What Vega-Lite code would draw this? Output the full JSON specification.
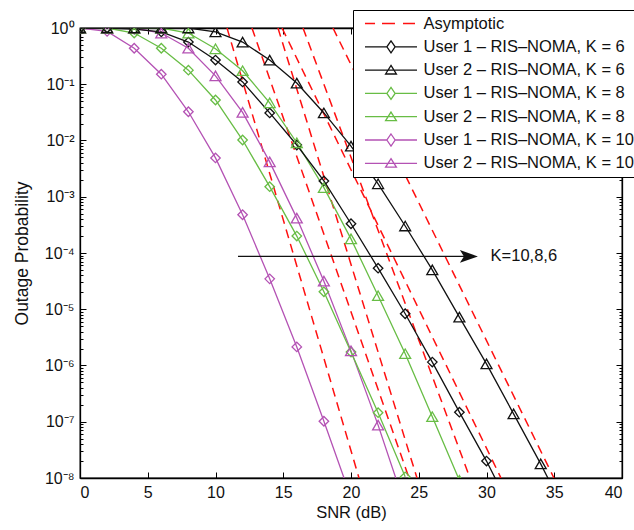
{
  "$schema": "https://vega.github.io/schema/vega-lite/v6.json",
  "width": 542,
  "height": 450,
  "autosize": {"type": "none"},
  "padding": {"left": 80, "top": 28, "right": 12, "bottom": 52},
  "background": "white",
  "config": {
    "font": "Liberation Sans",
    "view": {"stroke": "#000000", "strokeWidth": 1.3},
    "axis": {
      "grid": false,
      "labelFont": "Liberation Sans",
      "labelFontSize": 16,
      "labelColor": "#111111",
      "titleFont": "Liberation Sans",
      "titleFontSize": 16.5,
      "titleFontWeight": "normal",
      "titleColor": "#111111",
      "domainColor": "#000000",
      "domainWidth": 1.3,
      "tickColor": "#000000",
      "tickWidth": 1,
      "labelOverlap": false
    }
  },
  "datasets": {
    "curves": [
      {"series": "User 1 – RIS–NOMA, K = 10", "user": 1, "snr": 0, "p": 1},
      {"series": "User 1 – RIS–NOMA, K = 10", "user": 1, "snr": 2, "p": 0.871},
      {"series": "User 1 – RIS–NOMA, K = 10", "user": 1, "snr": 4, "p": 0.437},
      {"series": "User 1 – RIS–NOMA, K = 10", "user": 1, "snr": 6, "p": 0.151},
      {"series": "User 1 – RIS–NOMA, K = 10", "user": 1, "snr": 8, "p": 0.0324},
      {"series": "User 1 – RIS–NOMA, K = 10", "user": 1, "snr": 10, "p": 0.0049},
      {"series": "User 1 – RIS–NOMA, K = 10", "user": 1, "snr": 12, "p": 4.79e-4},
      {"series": "User 1 – RIS–NOMA, K = 10", "user": 1, "snr": 14, "p": 3.47e-5},
      {"series": "User 1 – RIS–NOMA, K = 10", "user": 1, "snr": 16, "p": 2.14e-6},
      {"series": "User 1 – RIS–NOMA, K = 10", "user": 1, "snr": 18, "p": 1.02e-7},
      {"series": "User 1 – RIS–NOMA, K = 10", "user": 1, "snr": 20, "p": 4.47e-9},

      {"series": "User 2 – RIS–NOMA, K = 10", "user": 2, "snr": 0, "p": 1},
      {"series": "User 2 – RIS–NOMA, K = 10", "user": 2, "snr": 2, "p": 1},
      {"series": "User 2 – RIS–NOMA, K = 10", "user": 2, "snr": 4, "p": 1},
      {"series": "User 2 – RIS–NOMA, K = 10", "user": 2, "snr": 6, "p": 0.813},
      {"series": "User 2 – RIS–NOMA, K = 10", "user": 2, "snr": 8, "p": 0.437},
      {"series": "User 2 – RIS–NOMA, K = 10", "user": 2, "snr": 10, "p": 0.141},
      {"series": "User 2 – RIS–NOMA, K = 10", "user": 2, "snr": 12, "p": 0.0316},
      {"series": "User 2 – RIS–NOMA, K = 10", "user": 2, "snr": 14, "p": 4.17e-3},
      {"series": "User 2 – RIS–NOMA, K = 10", "user": 2, "snr": 16, "p": 4.17e-4},
      {"series": "User 2 – RIS–NOMA, K = 10", "user": 2, "snr": 18, "p": 3.16e-5},
      {"series": "User 2 – RIS–NOMA, K = 10", "user": 2, "snr": 20, "p": 1.82e-6},
      {"series": "User 2 – RIS–NOMA, K = 10", "user": 2, "snr": 22, "p": 8.71e-8},
      {"series": "User 2 – RIS–NOMA, K = 10", "user": 2, "snr": 24, "p": 3.16e-9},

      {"series": "User 1 – RIS–NOMA, K = 8", "user": 1, "snr": 0, "p": 1},
      {"series": "User 1 – RIS–NOMA, K = 8", "user": 1, "snr": 2, "p": 1},
      {"series": "User 1 – RIS–NOMA, K = 8", "user": 1, "snr": 4, "p": 0.813},
      {"series": "User 1 – RIS–NOMA, K = 8", "user": 1, "snr": 6, "p": 0.437},
      {"series": "User 1 – RIS–NOMA, K = 8", "user": 1, "snr": 8, "p": 0.178},
      {"series": "User 1 – RIS–NOMA, K = 8", "user": 1, "snr": 10, "p": 0.0525},
      {"series": "User 1 – RIS–NOMA, K = 8", "user": 1, "snr": 12, "p": 0.0102},
      {"series": "User 1 – RIS–NOMA, K = 8", "user": 1, "snr": 14, "p": 1.51e-3},
      {"series": "User 1 – RIS–NOMA, K = 8", "user": 1, "snr": 16, "p": 2.0e-4},
      {"series": "User 1 – RIS–NOMA, K = 8", "user": 1, "snr": 18, "p": 2.04e-5},
      {"series": "User 1 – RIS–NOMA, K = 8", "user": 1, "snr": 20, "p": 1.74e-6},
      {"series": "User 1 – RIS–NOMA, K = 8", "user": 1, "snr": 22, "p": 1.45e-7},
      {"series": "User 1 – RIS–NOMA, K = 8", "user": 1, "snr": 24, "p": 1.05e-8},

      {"series": "User 2 – RIS–NOMA, K = 8", "user": 2, "snr": 0, "p": 1},
      {"series": "User 2 – RIS–NOMA, K = 8", "user": 2, "snr": 2, "p": 1},
      {"series": "User 2 – RIS–NOMA, K = 8", "user": 2, "snr": 4, "p": 1},
      {"series": "User 2 – RIS–NOMA, K = 8", "user": 2, "snr": 6, "p": 1},
      {"series": "User 2 – RIS–NOMA, K = 8", "user": 2, "snr": 8, "p": 0.813},
      {"series": "User 2 – RIS–NOMA, K = 8", "user": 2, "snr": 10, "p": 0.427},
      {"series": "User 2 – RIS–NOMA, K = 8", "user": 2, "snr": 12, "p": 0.174},
      {"series": "User 2 – RIS–NOMA, K = 8", "user": 2, "snr": 14, "p": 0.0468},
      {"series": "User 2 – RIS–NOMA, K = 8", "user": 2, "snr": 16, "p": 9.12e-3},
      {"series": "User 2 – RIS–NOMA, K = 8", "user": 2, "snr": 18, "p": 1.45e-3},
      {"series": "User 2 – RIS–NOMA, K = 8", "user": 2, "snr": 20, "p": 1.78e-4},
      {"series": "User 2 – RIS–NOMA, K = 8", "user": 2, "snr": 22, "p": 1.74e-5},
      {"series": "User 2 – RIS–NOMA, K = 8", "user": 2, "snr": 24, "p": 1.62e-6},
      {"series": "User 2 – RIS–NOMA, K = 8", "user": 2, "snr": 26, "p": 1.23e-7},
      {"series": "User 2 – RIS–NOMA, K = 8", "user": 2, "snr": 28, "p": 9.1e-9},

      {"series": "User 1 – RIS–NOMA, K = 6", "user": 1, "snr": 0, "p": 1},
      {"series": "User 1 – RIS–NOMA, K = 6", "user": 1, "snr": 2, "p": 1},
      {"series": "User 1 – RIS–NOMA, K = 6", "user": 1, "snr": 4, "p": 0.955},
      {"series": "User 1 – RIS–NOMA, K = 6", "user": 1, "snr": 6, "p": 0.851},
      {"series": "User 1 – RIS–NOMA, K = 6", "user": 1, "snr": 8, "p": 0.562},
      {"series": "User 1 – RIS–NOMA, K = 6", "user": 1, "snr": 10, "p": 0.269},
      {"series": "User 1 – RIS–NOMA, K = 6", "user": 1, "snr": 12, "p": 0.110},
      {"series": "User 1 – RIS–NOMA, K = 6", "user": 1, "snr": 14, "p": 0.0309},
      {"series": "User 1 – RIS–NOMA, K = 6", "user": 1, "snr": 16, "p": 8.32e-3},
      {"series": "User 1 – RIS–NOMA, K = 6", "user": 1, "snr": 18, "p": 1.91e-3},
      {"series": "User 1 – RIS–NOMA, K = 6", "user": 1, "snr": 20, "p": 3.31e-4},
      {"series": "User 1 – RIS–NOMA, K = 6", "user": 1, "snr": 22, "p": 5.37e-5},
      {"series": "User 1 – RIS–NOMA, K = 6", "user": 1, "snr": 24, "p": 8.32e-6},
      {"series": "User 1 – RIS–NOMA, K = 6", "user": 1, "snr": 26, "p": 1.15e-6},
      {"series": "User 1 – RIS–NOMA, K = 6", "user": 1, "snr": 28, "p": 1.48e-7},
      {"series": "User 1 – RIS–NOMA, K = 6", "user": 1, "snr": 30, "p": 2.0e-8},
      {"series": "User 1 – RIS–NOMA, K = 6", "user": 1, "snr": 32, "p": 2.24e-9},

      {"series": "User 2 – RIS–NOMA, K = 6", "user": 2, "snr": 0, "p": 1},
      {"series": "User 2 – RIS–NOMA, K = 6", "user": 2, "snr": 2, "p": 1},
      {"series": "User 2 – RIS–NOMA, K = 6", "user": 2, "snr": 4, "p": 1},
      {"series": "User 2 – RIS–NOMA, K = 6", "user": 2, "snr": 6, "p": 1},
      {"series": "User 2 – RIS–NOMA, K = 6", "user": 2, "snr": 8, "p": 1},
      {"series": "User 2 – RIS–NOMA, K = 6", "user": 2, "snr": 10, "p": 0.851},
      {"series": "User 2 – RIS–NOMA, K = 6", "user": 2, "snr": 12, "p": 0.562},
      {"series": "User 2 – RIS–NOMA, K = 6", "user": 2, "snr": 14, "p": 0.269},
      {"series": "User 2 – RIS–NOMA, K = 6", "user": 2, "snr": 16, "p": 0.105},
      {"series": "User 2 – RIS–NOMA, K = 6", "user": 2, "snr": 18, "p": 0.0309},
      {"series": "User 2 – RIS–NOMA, K = 6", "user": 2, "snr": 20, "p": 7.94e-3},
      {"series": "User 2 – RIS–NOMA, K = 6", "user": 2, "snr": 22, "p": 1.70e-3},
      {"series": "User 2 – RIS–NOMA, K = 6", "user": 2, "snr": 24, "p": 3.02e-4},
      {"series": "User 2 – RIS–NOMA, K = 6", "user": 2, "snr": 26, "p": 5.01e-5},
      {"series": "User 2 – RIS–NOMA, K = 6", "user": 2, "snr": 28, "p": 7.24e-6},
      {"series": "User 2 – RIS–NOMA, K = 6", "user": 2, "snr": 30, "p": 1.07e-6},
      {"series": "User 2 – RIS–NOMA, K = 6", "user": 2, "snr": 32, "p": 1.38e-7},
      {"series": "User 2 – RIS–NOMA, K = 6", "user": 2, "snr": 34, "p": 1.78e-8},
      {"series": "User 2 – RIS–NOMA, K = 6", "user": 2, "snr": 36, "p": 2.0e-9}
    ],
    "asym": [
      {"curve": "a1", "series": "Asymptotic", "snr": 10.85, "p": 1},
      {"curve": "a1", "series": "Asymptotic", "snr": 20.59, "p": 1e-8},
      {"curve": "a2", "series": "Asymptotic", "snr": 12.69, "p": 1},
      {"curve": "a2", "series": "Asymptotic", "snr": 24.28, "p": 1e-8},
      {"curve": "a3", "series": "Asymptotic", "snr": 14.61, "p": 1},
      {"curve": "a3", "series": "Asymptotic", "snr": 24.87, "p": 1e-8},
      {"curve": "a4", "series": "Asymptotic", "snr": 16.46, "p": 1},
      {"curve": "a4", "series": "Asymptotic", "snr": 28.78, "p": 1e-8},
      {"curve": "a5", "series": "Asymptotic", "snr": 14.91, "p": 1},
      {"curve": "a5", "series": "Asymptotic", "snr": 31.07, "p": 1e-8},
      {"curve": "a6", "series": "Asymptotic", "snr": 18.67, "p": 1},
      {"curve": "a6", "series": "Asymptotic", "snr": 34.98, "p": 1e-8}
    ],
    "arrow": [
      {"x1": 11.66, "x2": 28.4, "head": 28.7, "textx": 30.3, "p": 8.7e-5, "label": "K=10,8,6"}
    ]
  },
  "layer": [
    {
      "data": {"name": "asym"},
      "mark": {"type": "line", "clip": true, "strokeWidth": 1.5, "strokeDash": [9, 6]},
      "encoding": {
        "x": {
          "field": "snr", "type": "quantitative",
          "scale": {"domain": [0, 40], "nice": false, "zero": false},
          "axis": {
            "orient": "bottom",
            "values": [0, 5, 10, 15, 20, 25, 30, 35, 40],
            "title": "SNR (dB)",
            "tickSize": -6,
            "labelPadding": 12,
            "titlePadding": 4
          }
        },
        "y": {
          "field": "p", "type": "quantitative",
          "scale": {"type": "log", "domain": [1e-8, 1], "nice": false},
          "axis": {
            "orient": "left",
            "title": "Outage Probability",
            "titleFontSize": 17.5,
            "values": [1e-8,2e-8,3e-8,4e-8,5e-8,6e-8,7e-8,8e-8,9e-8,1e-7,2e-7,3e-7,4e-7,5e-7,6e-7,7e-7,8e-7,9e-7,1e-6,2e-6,3e-6,4e-6,5e-6,6e-6,7e-6,8e-6,9e-6,1e-5,2e-5,3e-5,4e-5,5e-5,6e-5,7e-5,8e-5,9e-5,1e-4,2e-4,3e-4,4e-4,5e-4,6e-4,7e-4,8e-4,9e-4,1e-3,2e-3,3e-3,4e-3,5e-3,6e-3,7e-3,8e-3,9e-3,1e-2,2e-2,3e-2,4e-2,5e-2,6e-2,7e-2,8e-2,9e-2,1e-1,2e-1,3e-1,4e-1,5e-1,6e-1,7e-1,8e-1,9e-1,1],
            "tickSize": {"condition": {"test": "abs(log(datum.value)/LN10 - round(log(datum.value)/LN10)) < 1e-6", "value": -6}, "value": -3},
            "labelExpr": "abs(log(datum.value)/LN10 - round(log(datum.value)/LN10)) < 1e-6 ? '10' + ['⁰','⁻¹','⁻²','⁻³','⁻⁴','⁻⁵','⁻⁶','⁻⁷','⁻⁸'][round(-log(datum.value)/LN10)] : ''",
            "labelPadding": 12,
            "titlePadding": 13
          }
        },
        "detail": {"field": "curve"},
        "color": {
          "field": "series", "type": "nominal",
          "scale": {
            "domain": ["Asymptotic", "User 1 – RIS–NOMA, K = 6", "User 2 – RIS–NOMA, K = 6", "User 1 – RIS–NOMA, K = 8", "User 2 – RIS–NOMA, K = 8", "User 1 – RIS–NOMA, K = 10", "User 2 – RIS–NOMA, K = 10"],
            "range": ["#ff1010", "#111111", "#111111", "#68bd45", "#68bd45", "#b452b4", "#b452b4"]
          },
          "legend": {
            "orient": "none",
            "legendX": 273,
            "legendY": -18,
            "title": null,
            "padding": 5,
            "strokeColor": "#000000",
            "fillColor": "#ffffff",
            "symbolSize": 225,
            "symbolStrokeWidth": 1.3,
            "labelFont": "Liberation Sans",
            "labelFontSize": 16.5,
            "labelColor": "#111111",
            "labelLimit": 0,
            "labelOffset": 48.5,
            "rowPadding": 5.3,
            "encode": {
              "symbols": {
                "update": {
                  "x": {"value": 33},
                  "shape": {"signal": "datum.value === 'Asymptotic' ? 'M-3.47,0L-2.13,0M-1.2,0L0.53,0M1.6,0L3.2,0' : (indexof(datum.value, 'User 1') === 0 ? 'M-3.47,0L-0.55,0M0.55,0L3.47,0M0,-0.8L0.55,0L0,0.8L-0.55,0Z' : 'M-3.47,0L3.47,0M0,-0.62L0.72,0.52L-0.72,0.52Z')"},
                  "fill": {"value": "transparent"},
                  "strokeWidth": {"value": 1.3},
                  "strokeDash": {"value": []}
                }
              }
            }
          }
        }
      }
    },
    {
      "data": {"name": "curves"},
      "mark": {"type": "line", "clip": true, "strokeWidth": 1.3},
      "encoding": {
        "x": {
          "field": "snr", "type": "quantitative",
          "axis": {
            "orient": "top",
            "values": [0, 5, 10, 15, 20, 25, 30, 35, 40],
            "labels": false, "title": null,
            "tickSize": -6
          }
        },
        "y": {
          "field": "p", "type": "quantitative",
          "axis": {
            "orient": "right",
            "labels": false, "title": null,
            "values": [1e-8,2e-8,3e-8,4e-8,5e-8,6e-8,7e-8,8e-8,9e-8,1e-7,2e-7,3e-7,4e-7,5e-7,6e-7,7e-7,8e-7,9e-7,1e-6,2e-6,3e-6,4e-6,5e-6,6e-6,7e-6,8e-6,9e-6,1e-5,2e-5,3e-5,4e-5,5e-5,6e-5,7e-5,8e-5,9e-5,1e-4,2e-4,3e-4,4e-4,5e-4,6e-4,7e-4,8e-4,9e-4,1e-3,2e-3,3e-3,4e-3,5e-3,6e-3,7e-3,8e-3,9e-3,1e-2,2e-2,3e-2,4e-2,5e-2,6e-2,7e-2,8e-2,9e-2,1e-1,2e-1,3e-1,4e-1,5e-1,6e-1,7e-1,8e-1,9e-1,1],
            "tickSize": {"condition": {"test": "abs(log(datum.value)/LN10 - round(log(datum.value)/LN10)) < 1e-6", "value": -6}, "value": -3}
          }
        },
        "color": {"field": "series", "type": "nominal"}
      }
    },
    {
      "data": {"name": "curves"},
      "transform": [{"filter": "datum.user === 1"}],
      "mark": {"type": "point", "shape": "diamond", "filled": false, "size": 90, "strokeWidth": 1.3, "clip": true, "opacity": 1},
      "encoding": {
        "x": {"field": "snr", "type": "quantitative", "axis": null},
        "y": {"field": "p", "type": "quantitative", "axis": null},
        "color": {"field": "series", "type": "nominal"}
      }
    },
    {
      "data": {"name": "curves"},
      "transform": [{"filter": "datum.user === 2"}],
      "mark": {"type": "point", "shape": "triangle-up", "filled": false, "size": 120, "strokeWidth": 1.3, "clip": true, "opacity": 1},
      "encoding": {
        "x": {"field": "snr", "type": "quantitative", "axis": null},
        "y": {"field": "p", "type": "quantitative", "axis": null},
        "color": {"field": "series", "type": "nominal"}
      }
    },
    {
      "data": {"name": "arrow"},
      "mark": {"type": "rule", "color": "#111111", "strokeWidth": 1.3},
      "encoding": {
        "x": {"field": "x1", "type": "quantitative", "axis": null},
        "x2": {"field": "x2"},
        "y": {"field": "p", "type": "quantitative", "axis": null}
      }
    },
    {
      "data": {"name": "arrow"},
      "mark": {"type": "point", "shape": "M1,0L-1,-0.7L-0.55,0L-1,0.7Z", "filled": true, "size": 324, "color": "#111111", "opacity": 1},
      "encoding": {
        "x": {"field": "head", "type": "quantitative", "axis": null},
        "y": {"field": "p", "type": "quantitative", "axis": null}
      }
    },
    {
      "data": {"name": "arrow"},
      "mark": {"type": "text", "align": "left", "baseline": "middle", "font": "Liberation Sans", "fontSize": 16.5, "color": "#111111"},
      "encoding": {
        "x": {"field": "textx", "type": "quantitative", "axis": null},
        "y": {"field": "p", "type": "quantitative", "axis": null},
        "text": {"field": "label"}
      }
    }
  ],
  "resolve": {"axis": {"x": "independent", "y": "independent"}}
}
